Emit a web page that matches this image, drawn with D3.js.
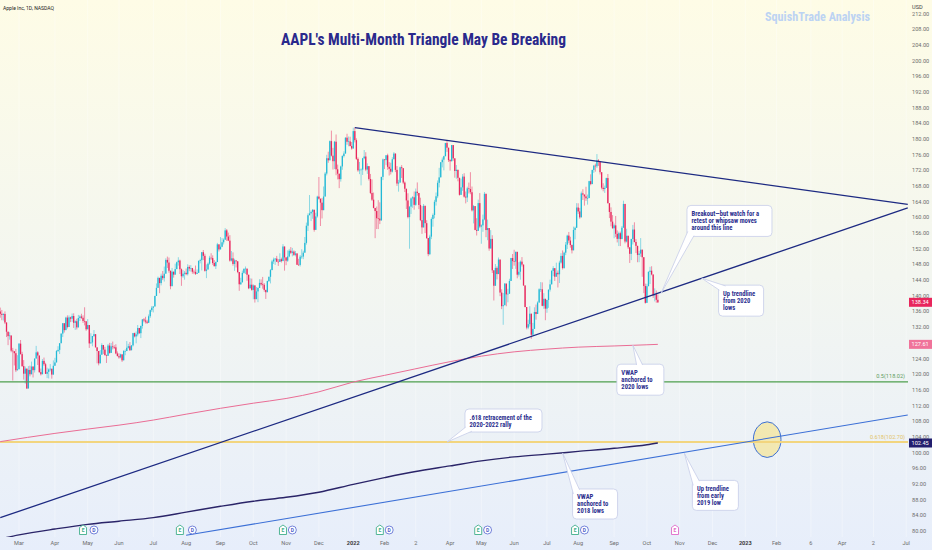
<!DOCTYPE html>
<html>
<head>
<meta charset="utf-8">
<script src="https://cdn.jsdelivr.net/npm/d3@7"></script>
<style>
  html, body { margin: 0; padding: 0; overflow: hidden; background: #f3f6f1; }
  svg { display: block; }
</style>
</head>
<body>
<div id="chart"></div>
<script>
// ---- data (AAPL daily, 2021-02-10 .. 2022-10-12) ----
var holidays = ["2021-02-15","2021-04-02","2021-05-31","2021-07-05","2021-09-06","2021-11-25","2021-12-24",
  "2022-01-17","2022-02-21","2022-04-15","2022-05-30","2022-06-20","2022-07-04","2022-09-05","2022-11-24","2022-12-26",
  "2023-01-02","2023-01-16","2023-02-20","2023-04-07","2023-05-29","2023-06-19","2023-07-04"];

var firstOpen = 136.0;

var closes = [
  135.39,135.13,135.37,133.19,130.84,129.71,129.87,126.00,125.86,125.35,120.99,121.26,
  127.79,125.12,122.06,120.13,121.42,116.36,121.09,119.98,121.96,121.03,123.99,125.57,124.76,120.53,119.99,123.39,122.54,120.09,120.59,121.21,121.39,119.90,122.15,
  123.00,125.90,126.21,127.90,130.36,133.00,131.24,134.43,132.03,134.50,134.16,134.84,133.11,133.50,131.94,134.32,134.72,134.39,133.58,133.48,131.46,
  132.54,127.85,128.10,129.74,130.21,126.85,125.91,122.77,124.97,127.45,126.27,124.85,124.69,127.31,125.43,127.10,126.90,126.85,125.28,124.61,
  124.28,125.06,123.54,125.89,125.90,126.74,127.13,126.11,127.35,130.48,129.64,130.15,131.79,130.46,132.30,133.98,133.70,133.41,133.11,134.78,136.33,136.96,
  137.27,139.96,142.02,144.57,143.24,145.11,144.50,145.64,149.15,148.48,146.39,142.45,146.15,145.40,146.80,148.56,148.99,146.77,144.98,145.64,145.86,
  145.52,147.36,146.95,147.06,146.14,146.09,145.60,145.86,148.89,149.10,151.12,150.19,146.36,146.70,148.19,149.71,149.62,148.36,147.54,148.60,153.12,151.83,
  152.51,153.65,154.30,156.69,155.11,154.07,148.97,149.55,148.12,149.03,148.79,146.06,142.94,143.43,145.85,146.83,146.92,145.37,141.91,142.83,141.50,
  142.65,139.14,141.11,142.00,143.29,142.90,142.81,141.51,140.91,143.76,144.84,146.55,148.76,149.26,149.48,148.69,148.64,149.32,148.85,152.57,149.80,
  148.96,150.02,151.49,150.96,151.28,150.44,150.81,147.92,147.87,149.99,150.00,151.00,153.49,157.87,160.55,161.02,161.41,161.94,156.81,160.24,165.30,
  164.77,163.76,161.84,165.32,171.18,175.08,174.56,179.45,175.74,174.33,179.30,172.26,171.14,169.75,172.99,175.64,176.28,180.33,179.29,179.38,178.20,177.57,
  182.01,179.70,174.92,172.00,172.17,172.19,175.08,175.53,172.19,173.07,169.80,166.23,164.51,162.41,161.62,159.78,159.69,159.22,170.33,174.78,
  174.61,175.84,172.90,172.39,171.66,174.83,176.28,172.12,168.64,168.88,172.79,172.55,168.88,167.30,164.32,160.07,162.74,164.85,165.12,
  163.20,166.56,166.23,163.17,159.30,157.44,162.95,158.52,154.73,150.62,155.09,159.59,160.62,163.98,165.38,168.82,170.21,174.07,174.72,175.60,178.96,177.77,174.61,
  174.31,178.44,175.06,171.83,172.14,170.09,165.75,167.66,170.40,165.29,165.07,167.40,167.23,166.42,161.79,162.88,156.80,156.57,163.64,157.65,
  157.96,159.48,166.02,156.77,157.28,152.06,154.51,146.50,142.56,147.11,145.54,149.24,140.82,137.35,137.59,143.11,140.36,140.52,143.78,149.64,148.84,
  148.71,151.21,145.38,146.14,148.71,147.96,142.64,137.13,131.88,132.76,135.43,130.06,131.56,135.87,135.35,138.27,141.66,141.66,137.44,139.23,136.72,
  138.93,141.56,142.92,146.35,147.04,144.87,145.86,145.49,148.47,150.17,147.07,151.00,153.04,155.35,154.09,152.95,151.60,156.79,157.35,162.51,
  161.51,160.01,166.13,165.81,165.35,164.87,164.92,169.24,168.49,172.10,173.19,173.03,174.55,174.15,171.52,167.57,167.23,167.53,170.03,163.62,161.38,158.91,157.22,
  157.96,155.81,154.53,155.96,154.46,157.37,163.43,153.84,155.31,152.37,150.70,154.48,156.90,153.72,152.74,150.43,150.77,151.76,149.84,142.48,138.20,
  142.45,146.10,146.40,145.43,140.09,140.42,138.98,138.34
];

var highs = [
  136.99,136.39,135.53,136.01,132.22,130.00,130.71,129.72,126.71,125.56,126.46,124.85,
  127.93,128.72,125.71,123.60,121.94,121.00,122.06,122.17,123.21,121.17,124.00,127.22,125.86,123.18,121.43,123.87,124.24,122.90,121.66,121.48,122.58,120.40,123.52,
  124.18,126.16,127.13,127.92,130.39,133.04,132.85,134.66,135.00,135.00,134.67,135.47,135.53,133.75,134.15,135.12,135.06,135.41,135.02,137.07,133.56,
  134.07,131.49,130.45,129.75,131.26,129.54,126.27,124.64,126.15,127.89,126.93,126.99,125.01,127.72,128.00,127.94,128.32,127.39,127.64,125.80,
  125.35,125.24,124.85,126.16,126.32,128.46,127.75,128.19,127.44,130.54,130.60,130.89,132.55,131.51,132.41,134.08,134.32,134.64,133.89,135.25,136.49,137.41,
  137.33,140.00,143.15,144.89,144.06,145.65,146.32,147.46,149.57,150.00,149.76,144.07,147.10,146.13,148.20,148.72,149.83,149.21,146.97,146.55,146.33,
  146.95,148.04,147.79,147.84,147.11,146.70,147.71,146.72,149.05,149.44,151.19,151.68,150.72,148.00,148.50,150.19,150.86,150.32,149.12,148.75,153.49,152.80,
  154.98,154.72,154.63,157.26,157.04,156.11,155.48,151.42,151.07,149.44,148.97,148.82,144.84,144.60,146.43,147.08,147.47,145.96,144.75,144.45,144.38,
  142.92,142.21,142.24,142.15,144.22,144.18,144.81,143.25,141.40,143.88,144.90,146.84,149.17,149.75,149.64,150.18,149.37,150.84,149.73,153.17,149.94,
  149.70,151.57,151.97,152.43,152.20,151.57,151.43,150.13,149.43,150.40,151.88,151.49,155.00,158.67,161.02,165.70,161.80,162.14,160.45,161.19,165.52,
  170.30,164.20,164.96,167.88,171.58,175.96,176.75,179.63,182.13,177.74,179.50,181.14,173.47,170.58,173.20,175.86,176.85,180.42,181.33,180.63,180.57,179.23,
  182.88,182.94,180.17,175.30,174.14,172.50,175.18,177.18,176.62,173.78,172.54,171.08,169.68,166.33,162.30,162.76,164.39,163.84,170.35,175.00,
  174.84,175.88,176.24,174.10,173.95,175.35,176.65,175.48,173.08,169.58,172.95,173.34,171.91,169.16,166.69,166.15,162.85,165.12,165.42,
  166.60,167.36,168.91,165.55,165.02,162.88,163.41,160.39,159.28,154.12,155.57,160.00,161.00,164.48,166.35,169.42,172.64,174.14,175.28,175.73,179.01,179.61,177.07,
  174.88,178.49,178.30,173.63,173.36,171.78,168.91,169.87,171.04,171.27,166.60,167.82,168.88,171.53,167.87,163.17,162.34,159.79,164.52,166.20,
  158.23,160.71,166.48,164.08,159.44,155.83,156.74,155.45,146.20,148.10,147.52,149.77,147.36,141.66,140.70,143.26,141.97,141.78,144.34,149.68,150.66,
  151.74,151.27,147.97,148.57,149.00,149.87,147.95,140.76,135.20,133.89,137.34,132.39,133.08,137.06,137.76,138.59,141.91,143.49,143.42,140.67,138.37,
  139.04,141.61,144.12,146.55,147.55,146.64,148.45,146.45,148.95,150.86,151.57,151.23,153.72,155.57,156.28,155.04,153.09,157.64,157.64,163.63,
  163.59,162.41,166.59,167.19,165.85,167.81,165.82,169.34,170.99,172.17,173.39,173.71,176.15,174.86,172.95,169.86,168.71,168.11,170.14,171.05,162.90,162.56,160.58,
  158.42,160.36,156.67,156.36,156.36,157.82,164.26,160.54,157.10,155.24,151.35,154.56,158.08,158.74,154.47,151.47,151.47,154.72,150.64,146.72,143.10,
  143.07,146.22,147.38,147.54,143.10,141.89,141.35,140.36
];

var lows = [
  134.40,133.77,133.69,132.79,129.47,127.41,128.80,125.60,118.39,122.23,120.54,121.20,
  122.79,125.01,121.84,118.62,117.57,116.21,119.45,119.45,121.26,119.16,120.42,124.72,122.34,120.32,119.68,120.26,122.14,120.07,119.00,118.92,120.73,118.86,121.15,
  122.49,123.07,125.65,125.14,128.52,129.47,130.63,131.93,131.66,133.64,133.28,133.34,131.81,131.30,131.41,132.16,133.56,134.11,133.08,132.45,131.07,
  131.83,126.70,127.97,127.13,129.48,126.81,122.77,122.25,124.26,125.85,125.17,124.78,122.86,125.10,125.21,125.94,126.32,126.42,125.08,124.55,
  123.94,124.05,123.13,123.85,124.83,126.21,126.52,125.94,126.10,127.07,129.39,127.88,129.65,130.24,129.21,131.62,133.23,132.93,132.81,133.35,134.35,135.87,
  135.76,137.75,140.07,142.66,140.67,142.65,144.00,143.63,147.68,147.09,145.88,141.67,142.96,144.63,145.81,146.92,147.70,145.55,142.54,144.58,144.11,
  145.25,145.18,146.28,146.17,145.63,145.52,145.30,145.53,145.84,148.27,146.47,149.09,146.15,144.50,146.78,147.89,149.15,147.89,147.51,146.83,148.61,151.29,
  152.34,152.40,153.09,154.39,153.98,153.95,148.70,148.75,147.68,146.37,147.22,145.76,141.27,142.78,143.70,145.64,145.56,143.82,141.69,142.03,141.28,
  139.11,138.27,139.36,138.37,142.72,142.56,141.81,141.04,139.20,141.51,143.51,143.16,146.55,148.12,147.87,148.64,147.62,149.01,148.49,149.72,146.41,
  147.80,148.65,149.82,150.64,150.06,150.16,150.06,147.85,147.68,147.48,149.43,149.34,150.99,153.05,156.53,161.00,159.06,159.64,156.36,158.79,159.92,
  164.53,157.80,159.72,164.28,168.34,170.70,173.92,174.69,175.53,172.21,172.31,170.75,169.69,167.46,169.12,172.15,175.27,177.07,178.53,178.14,178.09,177.26,
  177.71,179.12,174.64,171.64,171.03,168.17,170.82,174.82,171.79,171.09,169.41,165.94,164.18,162.30,154.70,157.02,157.02,158.28,162.80,169.51,
  172.31,173.33,172.12,170.68,170.95,171.43,174.90,171.55,168.04,166.56,170.25,170.05,168.47,166.46,162.15,159.75,152.00,160.87,162.43,
  161.97,162.95,165.55,162.10,159.04,155.80,159.41,155.98,154.50,150.10,150.38,154.46,157.63,159.76,163.01,164.91,167.65,170.21,172.75,172.00,176.70,176.70,174.14,
  171.94,174.44,174.42,170.13,169.85,169.20,165.55,166.64,166.77,165.04,163.57,163.91,166.10,165.91,161.50,158.46,156.72,155.38,158.93,157.25,
  153.27,156.32,159.26,154.95,154.18,151.49,152.93,145.81,138.80,143.11,144.18,146.68,139.90,136.60,132.61,137.65,137.33,138.34,141.08,145.26,146.84,
  147.68,146.86,144.46,144.90,144.10,147.46,142.53,137.06,131.44,131.48,132.16,129.04,129.81,133.32,133.91,135.63,139.77,140.97,137.32,136.67,133.77,
  135.66,136.93,141.08,143.28,145.00,143.78,145.05,142.12,143.25,148.20,146.70,146.91,150.37,151.94,153.41,152.28,150.80,152.41,154.41,159.50,
  160.89,159.63,160.89,164.43,163.00,164.20,163.25,166.90,168.19,169.40,171.35,171.66,172.57,173.12,170.95,167.14,166.65,166.25,168.35,163.56,159.82,157.72,157.14,
  154.67,154.97,153.61,152.68,152.68,154.75,159.30,153.37,153.61,151.94,148.37,149.10,153.08,153.60,150.91,148.56,148.56,149.95,144.84,140.68,138.00,
  138.75,144.26,143.01,145.22,139.45,138.57,138.22,138.16
];

// VWAP readings (date, price)
var vwap2020 = [["2021-02-10",102.8],["2021-04-01",104.9],["2021-05-03",106.0],["2021-06-01",107.0],["2021-07-01",108.3],
  ["2021-08-02",109.8],["2021-09-01",111.3],["2021-10-01",112.6],["2021-11-01",113.8],["2021-12-01",115.5],["2022-01-03",118.0],
  ["2022-02-01",119.7],["2022-03-01",121.3],["2022-04-01",123.2],["2022-05-02",124.6],["2022-06-01",125.7],["2022-07-01",126.4],
  ["2022-08-01",126.9],["2022-09-01",127.2],["2022-10-03",127.5],["2022-10-12",127.61]];
var vwap2018 = [["2021-02-10",78.0],["2021-03-01",79.0],["2021-04-01",80.5],["2021-05-03",81.7],["2021-06-01",82.5],
  ["2021-07-01",83.4],["2021-08-02",84.8],["2021-09-01",86.3],["2021-10-01",87.6],["2021-11-01",88.6],["2021-12-01",89.9],
  ["2022-01-03",91.9],["2022-02-01",93.6],["2022-03-01",95.1],["2022-04-01",96.6],["2022-05-02",97.9],["2022-06-01",98.9],
  ["2022-07-01",99.6],["2022-08-01",100.3],["2022-09-01",101.1],["2022-10-03",102.0],["2022-10-12",102.45]];

// drawings
var descLine = [["2022-01-04",182.9],["2023-06-02",163.3]];
var ascLine = [["2021-02-10",83.4],["2023-06-02",162.4]];
var line2019 = [["2021-08-02",78.9],["2023-06-02",109.6]];
var fibLevels = [118.02, 102.70];
var fibLabels = ["0.5(118.02)", "0.618(102.70)"];
var circleAt = ["2023-01-24", 103.3];

var earnings = ["2021-04-28","2021-07-27","2021-10-28","2022-01-27","2022-04-28","2022-07-28"];
var nextEarnings = ["2022-10-27"];
var dividends = ["2021-05-07","2021-08-06","2021-11-05","2022-02-04","2022-05-06","2022-08-05"];

var tickDates = ["2021-03-01","2021-04-01","2021-05-03","2021-06-01","2021-07-01","2021-08-02","2021-09-01","2021-10-01",
  "2021-11-01","2021-12-01","2022-01-03","2022-02-01","2022-03-02","2022-04-01","2022-05-02","2022-06-01","2022-07-01",
  "2022-08-01","2022-09-01","2022-10-03","2022-11-01","2022-12-01","2023-01-03","2023-02-01","2023-03-06","2023-04-03",
  "2023-05-02","2023-06-01"];
var tickLabels = ["Mar","Apr","May","Jun","Jul","Aug","Sep","Oct","Nov","Dec","2022","Feb","2","Apr","May","Jun","Jul",
  "Aug","Sep","Oct","Nov","Dec","2023","Feb","6","Apr","2","Jul"];

var notes = [
  { lines: ["Breakout\u2014but watch for a", "retest or whipsaw moves", "around this line"], tip: ["2022-10-14", 140.6], dx: 26, dy: -88, w: 85, h: 31, base: "bl" },
  { lines: ["Up trendline", "from 2020", "lows"], tip: ["2022-11-21", 144.5], dx: 17, dy: 7, w: 45, h: 31, base: "tl" },
  { lines: ["VWAP", "anchored to", "2020 lows"], tip: ["2022-09-20", 127.4], dx: -16, dy: 19, w: 47, h: 31, base: "top" },
  { lines: [".618 retracement of the", "2020-2022 rally"], tip: ["2022-03-30", 102.7], dx: 18, dy: -33, w: 77, h: 23, base: "bl" },
  { lines: ["VWAP", "anchored to", "2018 lows"], tip: ["2022-07-18", 99.9], dx: 10, dy: 36, w: 45, h: 30, base: "tl" },
  { lines: ["Up trendline", "from early", "2019 low"], tip: ["2022-11-04", 99.8], dx: 8, dy: 27, w: 46, h: 30, base: "tl" }
];

// ---- layout ----
var W = 932, H = 550, plotW = 908, plotH = 537;
var fmtDay = d3.utcFormat("%Y-%m-%d");
var days = d3.utcDays(new Date(Date.UTC(2021, 1, 10)), new Date(Date.UTC(2023, 7, 1)))
  .filter(function(d) { return d.getUTCDay() % 6 !== 0 && holidays.indexOf(fmtDay(d)) < 0; })
  .map(fmtDay);
var idx = new Map(days.map(function(d, i) { return [d, i]; }));

var x = d3.scaleLinear().domain([0, 580]).range([0.26, 906.2]);
var y = d3.scaleLinear().domain([80, 164]).range([531.0, 201.7]);
function px(d) { return x(idx.get(d)); }

var svg = d3.select("#chart").append("svg").attr("width", W).attr("height", H)
  .style("font-family", "Roboto, 'Liberation Sans', sans-serif");
var defs = svg.append("defs");
var grad = defs.append("linearGradient").attr("id", "bg").attr("x1", 0).attr("y1", 0).attr("x2", 0).attr("y2", 1);
grad.selectAll("stop").data([[0, "#fefce6"], [0.5, "#f3f6f0"], [1, "#e7eefb"]]).enter().append("stop")
  .attr("offset", function(d) { return d[0]; }).attr("stop-color", function(d) { return d[1]; });
defs.append("clipPath").attr("id", "clip").append("rect").attr("width", plotW).attr("height", plotH);

svg.append("rect").attr("width", W).attr("height", H).attr("fill", "url(#bg)");

var plot = svg.append("g").attr("clip-path", "url(#clip)");

// faint grid
plot.selectAll("line.vg").data(tickDates).enter().append("line")
  .attr("x1", px).attr("x2", px).attr("y1", 0).attr("y2", plotH)
  .attr("stroke", "#ffffff").attr("stroke-opacity", 0.35).attr("stroke-width", 1);

// candles
var candles = closes.map(function(c, i) {
  var o = i ? closes[i - 1] : firstOpen;
  return { d: days[i], o: o, c: c, h: Math.max(highs[i], o, c), l: Math.min(lows[i], o, c) };
});
var upCol = "#22b9d6", downCol = "#e8265c";
var cg = plot.append("g");
cg.selectAll("line").data(candles).enter().append("line")
  .attr("x1", function(d) { return px(d.d); }).attr("x2", function(d) { return px(d.d); })
  .attr("y1", function(d) { return y(d.h); }).attr("y2", function(d) { return y(d.l); })
  .attr("stroke", function(d) { return d.c >= d.o ? upCol : downCol; }).attr("stroke-width", 0.5);
cg.selectAll("rect").data(candles).enter().append("rect")
  .attr("x", function(d) { return px(d.d) - 0.65; }).attr("width", 1.3)
  .attr("y", function(d) { return y(Math.max(d.o, d.c)); })
  .attr("height", function(d) { return Math.max(0.6, Math.abs(y(d.o) - y(d.c))); })
  .attr("fill", function(d) { return d.c >= d.o ? upCol : downCol; });

// ellipse at the 0.618 / 2019 trendline crossing
plot.append("ellipse").attr("cx", px(circleAt[0])).attr("cy", y(circleAt[1])).attr("rx", 13.8).attr("ry", 17.8)
  .attr("fill", "#f7e384").attr("fill-opacity", 0.6).attr("stroke", "#3b6fd6").attr("stroke-width", 1);

// fib levels
var fibCol = ["#4e9f4e", "#f2d57e"], fibW = [1.2, 2];
plot.selectAll("line.fib").data(fibLevels).enter().append("line")
  .attr("x1", 0).attr("x2", plotW).attr("y1", y).attr("y2", y)
  .attr("stroke", function(d, i) { return fibCol[i]; }).attr("stroke-width", function(d, i) { return fibW[i]; });
plot.selectAll("text.fib").data(fibLevels).enter().append("text")
  .attr("x", 905).attr("y", function(d) { return y(d) - 3.5; }).attr("text-anchor", "end")
  .attr("font-size", 5.6).attr("fill", function(d, i) { return i ? "#e3c56a" : "#5f9e5f"; })
  .text(function(d, i) { return fibLabels[i]; });

// VWAPs and trendlines
var line = d3.line().x(function(d) { return px(d[0]); }).y(function(d) { return y(d[1]); });
plot.append("path").attr("d", line.curve(d3.curveMonotoneX)(vwap2020)).attr("fill", "none").attr("stroke", "#ea6d95").attr("stroke-width", 1);
plot.append("path").attr("d", line.curve(d3.curveMonotoneX)(vwap2018)).attr("fill", "none").attr("stroke", "#2a2468").attr("stroke-width", 1.4);
line.curve(d3.curveLinear);
plot.append("path").attr("d", line(line2019)).attr("fill", "none").attr("stroke", "#3b6fd6").attr("stroke-width", 1.1);
plot.append("path").attr("d", line(ascLine)).attr("fill", "none").attr("stroke", "#1d2a82").attr("stroke-width", 1.3);
plot.append("path").attr("d", line(descLine)).attr("fill", "none").attr("stroke", "#1d2a82").attr("stroke-width", 1.3);

// callouts
var noteFont = "'Liberation Sans Narrow','Roboto Condensed',Roboto,sans-serif";
var ng = svg.append("g");
notes.forEach(function(n) {
  var tx = px(n.tip[0]), ty = y(n.tip[1]);
  var bx = tx + n.dx, by = ty + n.dy, p1, p2;
  if (n.base === "bl") { p1 = [bx + 0.8, by + n.h - 5]; p2 = [bx + 7, by + n.h - 0.8]; }
  else if (n.base === "tl") { p1 = [bx + 0.8, by + 5]; p2 = [bx + 7, by + 0.8]; }
  else { p1 = [bx + n.w * 0.42, by + 0.8]; p2 = [bx + n.w * 0.42 + 6, by + 0.8]; }
  var g = ng.append("g");
  g.append("rect").attr("x", bx).attr("y", by).attr("width", n.w).attr("height", n.h).attr("rx", 4)
    .attr("fill", "#ffffff").attr("stroke", "#c6cde8").attr("stroke-width", 0.8);
  g.append("path").attr("d", "M" + p1 + "L" + tx + "," + ty + "L" + p2 + "Z").attr("fill", "#ffffff");
  g.append("path").attr("d", "M" + p1 + "L" + tx + "," + ty + "L" + p2).attr("fill", "none")
    .attr("stroke", "#c6cde8").attr("stroke-width", 0.8);
  n.lines.forEach(function(t, k) {
    g.append("text").attr("class", "note").attr("x", bx + 4.5).attr("y", by + 10.5 + k * 7)
      .attr("font-family", noteFont).attr("font-weight", "bold").attr("font-size", 7)
      .attr("fill", "#2d318f").text(t);
  });
});
var noteTexts = ng.selectAll("text.note");
var ratio = 67.6 / noteTexts.node().getComputedTextLength();
if (ratio < 1) noteTexts.each(function() {
  d3.select(this).attr("textLength", this.getComputedTextLength() * ratio).attr("lengthAdjust", "spacingAndGlyphs");
});

// earnings / dividend markers
var mk = svg.append("g");
function eMark(d, col) {
  var cx = px(d), g = mk.append("g");
  g.append("path").attr("d", "M" + (cx - 3.5) + ",534.5L" + (cx - 3.5) + ",527.5L" + cx + ",525L" + (cx + 3.5) + ",527.5L" + (cx + 3.5) + ",534.5Z")
    .attr("fill", "#ffffff").attr("stroke", col).attr("stroke-width", 0.9);
  g.append("text").attr("x", cx).attr("y", 532.4).attr("text-anchor", "middle").attr("font-size", 5)
    .attr("font-weight", "bold").attr("fill", col).text("E");
}
earnings.forEach(function(d) { eMark(d, "#3fae8a"); });
nextEarnings.forEach(function(d) { eMark(d, "#e06ac8"); });
dividends.forEach(function(d) {
  var cx = px(d), g = mk.append("g");
  g.append("circle").attr("cx", cx).attr("cy", 530).attr("r", 4).attr("fill", "#ffffff").attr("stroke", "#6575d6").attr("stroke-width", 0.9);
  g.append("text").attr("x", cx).attr("y", 531.8).attr("text-anchor", "middle").attr("font-size", 5)
    .attr("font-weight", "bold").attr("fill", "#4e5fc9").text("D");
});

// time axis
svg.selectAll("text.xt").data(tickDates).enter().append("text")
  .attr("x", px).attr("y", 545).attr("text-anchor", "middle").attr("font-size", 5.6)
  .attr("font-weight", function(d, i) { return /^\d{4}$/.test(tickLabels[i]) ? "bold" : "normal"; })
  .attr("fill", function(d, i) { return /^\d{4}$/.test(tickLabels[i]) ? "#3a3a3a" : "#6d6d6d"; })
  .text(function(d, i) { return tickLabels[i]; });

// price axis
svg.selectAll("text.yt").data(d3.range(80, 213, 4)).enter().append("text")
  .attr("x", 912).attr("y", function(d) { return y(d) + 2; }).attr("font-size", 5.6).attr("fill", "#6d6d6d")
  .text(d3.format(".2f"));
svg.append("rect").attr("x", 909).attr("y", 0).attr("width", 23).attr("height", 11.5).attr("fill", "#fefce6");
svg.append("text").attr("x", 912).attr("y", 8.5).attr("font-size", 5.6).attr("fill", "#444").text("USD");

var tags = [
  { v: closes[closes.length - 1], col: "#e8265c" },
  { v: vwap2020[vwap2020.length - 1][1], col: "#f0739a" },
  { v: vwap2018[vwap2018.length - 1][1], col: "#221e6e" }
];
tags.forEach(function(t) {
  svg.append("rect").attr("x", 909).attr("y", y(t.v) - 4.5).attr("width", 23).attr("height", 9).attr("fill", t.col);
  svg.append("text").attr("x", 911.5).attr("y", y(t.v) + 2).attr("font-size", 5.6).attr("fill", "#ffffff").text(d3.format(".2f")(t.v));
});

// header texts
svg.append("text").attr("x", 3).attr("y", 10).attr("font-size", 5.4).attr("fill", "#222")
  .attr("textLength", 51).attr("lengthAdjust", "spacingAndGlyphs").text("Apple Inc, 1D, NASDAQ");
svg.append("text").attr("x", 281).attr("y", 45).attr("font-size", 17.3).attr("font-weight", "bold")
  .attr("font-family", noteFont).attr("fill", "#2a298c")
  .attr("textLength", 285).attr("lengthAdjust", "spacingAndGlyphs")
  .text("AAPL's Multi-Month Triangle May Be Breaking");
svg.append("text").attr("x", 765).attr("y", 20.7).attr("font-size", 12.6).attr("font-weight", "bold")
  .attr("font-family", noteFont).attr("fill", "#bcd3f3")
  .attr("textLength", 105).attr("lengthAdjust", "spacingAndGlyphs")
  .text("SquishTrade Analysis");
</script>
</body>
</html>
